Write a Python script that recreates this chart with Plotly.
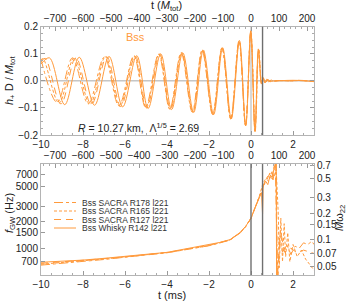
import math
import plotly.graph_objects as go

# ---------------- data ----------------
# top panel: strain h+ D / M_tot, extrema and ringdown points (t in ms)
t_whisky = [-10.0, -9.60, -8.87, -8.18, -7.45, -6.76, -6.11, -5.44, -4.90, -4.30, -3.78, -3.25,
            -2.73, -2.27, -1.78, -1.35, -0.94, -0.55, -0.25, -0.01, 0.19, 0.35, 0.50, 0.58,
            0.66, 0.75, 0.85, 0.95, 1.10, 1.50, 2.00, 2.40, 3.00]
h_whisky = [0.062, 0.085, -0.088, 0.087, -0.090, 0.090, -0.096, 0.093, -0.102, 0.100, -0.106, 0.104,
            -0.117, 0.114, -0.125, 0.122, -0.141, 0.149, -0.166, 0.185, -0.187, 0.118, -0.012, 0.012,
            -0.008, 0.006, -0.004, 0.003, -0.001, 0.001, 0.002, 0.001, -0.003]

t_r178 = [-10.0, -9.23, -8.50, -7.75, -6.98, -6.29, -5.58, -5.02, -4.40, -3.87, -3.33, -2.80,
          -2.33, -1.83, -1.39, -0.97, -0.57, -0.26, -0.01, 0.19, 0.36, 0.50, 0.58, 0.68,
          0.80, 0.95, 1.20, 1.80, 2.30, 3.00]
h_r178 = [0.080, -0.080, 0.085, -0.085, 0.088, -0.092, 0.092, -0.098, 0.098, -0.104, 0.104, -0.115,
          0.113, -0.124, 0.121, -0.140, 0.148, -0.165, 0.182, -0.185, 0.115, -0.010, 0.010, -0.006,
          0.004, -0.002, 0.001, 0.000, 0.002, -0.002]

t_r165 = [-10.0, -9.90, -9.14, -8.42, -7.67, -6.93, -6.25, -5.55, -4.99, -4.38, -3.85, -3.31, -2.78,
          -2.32, -1.82, -1.38, -0.96, -0.57, -0.26, -0.01, 0.20, 0.37, 0.51, 0.59, 0.69,
          0.82, 0.97, 1.30, 1.90, 2.40, 3.00]
h_r165 = [0.078, 0.082, -0.082, 0.086, -0.087, 0.089, -0.094, 0.092, -0.100, 0.099, -0.105, 0.104, -0.116,
          0.113, -0.124, 0.121, -0.140, 0.148, -0.165, 0.183, -0.186, 0.116, -0.011, 0.009, -0.006,
          0.004, -0.002, 0.001, 0.000, 0.001, -0.002]

t_r127 = [-10.0, -9.80, -9.05, -8.34, -7.60, -6.87, -6.20, -5.51, -4.96, -4.35, -3.83, -3.29, -2.77,
          -2.30, -1.81, -1.37, -0.96, -0.56, -0.26, -0.01, 0.19, 0.35, 0.50, 0.58, 0.67,
          0.78, 0.90, 1.20, 1.80, 2.40, 3.00]
h_r127 = [0.072, 0.083, -0.085, 0.086, -0.088, 0.089, -0.095, 0.092, -0.101, 0.099, -0.105, 0.104, -0.116,
          0.113, -0.125, 0.122, -0.141, 0.149, -0.166, 0.184, -0.186, 0.117, -0.011, 0.011, -0.007,
          0.005, -0.003, 0.001, 0.000, 0.001, -0.002]

# bottom panel: GW frequency (Hz)
tf_whisky = [-10, -9, -8, -7, -6, -5, -4, -3, -2, -1.5, -1, -0.5, -0.25, 0, 0.2, 0.4, 0.5,
             0.55, 0.58, 0.7, 0.8, 0.9, 1.0, 1.1, 1.2, 1.22]
f_whisky = [690, 705, 731, 765, 800, 850, 895, 985, 1085, 1160, 1250, 1520, 1780, 2200, 2900, 3900, 4300,
            2450, 5200, 5800, 5300, 6600, 6200, 8200, 9800, 300]

tf_r178 = [-10, -9, -8, -7, -6, -5, -4, -3, -2, -1.5, -1, -0.5, -0.25, 0, 0.2, 0.4, 0.55, 0.7,
           0.85, 1.0, 1.15, 1.28, 1.35, 1.5, 1.7, 1.9, 2.1, 2.3, 2.5, 2.7, 2.9, 3.0]
f_r178 = [640, 668, 703, 742, 788, 838, 885, 970, 1065, 1145, 1235, 1500, 1760, 2180, 2900, 3900, 5000, 6000,
          7000, 6500, 9800, 400, 1300, 900, 1100, 850, 1050, 1000, 1150, 1100, 1200, 1100]

tf_r165 = [-10, -9, -8, -7, -6, -5, -4, -3, -2, -1.5, -1, -0.5, -0.25, 0, 0.2, 0.4, 0.55, 0.7,
           0.85, 1.0, 1.1, 1.2, 1.3, 1.35, 1.42, 1.5, 1.58, 1.65, 1.75, 1.85, 2.0, 2.2, 2.4, 2.6,
           2.8, 3.0]
f_r165 = [655, 683, 716, 752, 793, 843, 890, 975, 1070, 1150, 1240, 1510, 1770, 2190, 2900, 3900, 5300, 6200,
          5800, 7500, 6500, 8000, 2400, 600, 2200, 700, 1900, 800, 1500, 700, 1100, 800, 950, 750,
          650, 560]

tf_r127 = [-10, -9, -8, -7, -6, -5, -4, -3, -2, -1.5, -1, -0.5, -0.25, 0, 0.2, 0.4, 0.55, 0.7,
           0.9, 1.05, 1.2, 1.25, 1.4, 1.6, 1.9, 2.2, 2.5, 2.8, 3.0]
f_r127 = [670, 694, 724, 758, 797, 846, 892, 980, 1078, 1155, 1245, 1515, 1775, 2195, 2900, 3900, 5000, 5600,
          7200, 6000, 9800, 450, 1600, 900, 1000, 880, 950, 900, 870]

labels = ["Bss SACRA R178 l221", "Bss SACRA R165 l221", "Bss SACRA R127 l221", "Bss Whisky R142 l221"]

# ticks
ms_ticks = [-10, -8, -6, -4, -2, 0, 2]
mtot_ticks = [-700, -600, -500, -400, -300, -200, -100, 0, 100, 200]
h_ticks = [-0.2, -0.1, 0.0, 0.1, 0.2]
f_ticks = [700, 1000, 1500, 2000, 3000, 5000, 7000]
mw_ticks = [0.05, 0.07, 0.1, 0.15, 0.2, 0.3, 0.5, 0.7]

MTOT_PER_MS = 75.0
MW_PER_HZ = 8.0e-5
T_RANGE = [-10, 3]
F_RANGE = [494, 9110]
MERGER_T = 0.0
COLLAPSE_T = 0.55

# ---------------- figure ----------------
W, H = 346, 302
ORANGE = "#FF9A3C"
FONT = "Liberation Sans, Arial, sans-serif"
XD = [41 / W, 314 / W]
YD_TOP = [1 - 135 / H, 1 - 26.7 / H]
YD_BOT = [1 - 275 / H, 1 - 164 / H]

dashes = ["dashdot", "3px,2px", "7px,5px", "solid"]

fig = go.Figure()
top_sets = [(t_r178, h_r178), (t_r165, h_r165), (t_r127, h_r127), (t_whisky, h_whisky)]
for (tt, hh), d, name in zip(top_sets, dashes, labels):
    fig.add_trace(go.Scatter(x=tt, y=hh, mode="lines", line=dict(color=ORANGE, width=1, dash=d, shape="spline", smoothing=1.0),
                             xaxis="x", yaxis="y", showlegend=False, name=name, hoverinfo="skip"))
bot_sets = [(tf_r178, f_r178), (tf_r165, f_r165), (tf_r127, f_r127), (tf_whisky, f_whisky)]
for (tt, ff), d, name in zip(bot_sets, dashes, labels):
    fig.add_trace(go.Scatter(x=tt, y=ff, mode="lines", line=dict(color=ORANGE, width=1, dash=d),
                             xaxis="x2", yaxis="y2", showlegend=False, name=name, hoverinfo="skip"))

frame = "#b4b4b4"
tickfont = dict(family=FONT, size=10, color="#222")
common = dict(showline=True, linecolor=frame, linewidth=1, ticks="inside", tickcolor="#999",
              ticklen=4, showgrid=False, zeroline=False, tickfont=tickfont, automargin=False)
minor_ms = dict(dtick=0.5, ticklen=2, tickcolor="#aaa", ticks="inside")
minor_m = dict(dtick=20, ticklen=2, tickcolor="#aaa", ticks="inside")

fig.update_layout(
    template="none",
    width=W, height=H, margin=dict(l=0, r=0, t=0, b=0, autoexpand=False),
    paper_bgcolor="white", plot_bgcolor="white", showlegend=False,
    xaxis=dict(domain=XD, anchor="y", range=T_RANGE, tickvals=ms_ticks, mirror=False, minor=minor_ms, **common),
    xaxis3=dict(overlaying="x", anchor="y", side="top", range=[T_RANGE[0] * MTOT_PER_MS, T_RANGE[1] * MTOT_PER_MS],
                tickvals=mtot_ticks, minor=minor_m, **common),
    yaxis=dict(domain=YD_TOP, anchor="x", range=[-0.2, 0.2], tickvals=h_ticks, tickformat=".1f", mirror="ticks",
               minor=dict(dtick=0.025, ticklen=2, tickcolor="#aaa", ticks="inside"), **common),
    xaxis2=dict(domain=XD, anchor="y2", range=T_RANGE, tickvals=ms_ticks, mirror=False, minor=minor_ms, **common),
    xaxis4=dict(overlaying="x2", anchor="y2", side="top", range=[T_RANGE[0] * MTOT_PER_MS, T_RANGE[1] * MTOT_PER_MS],
                tickvals=mtot_ticks, minor=minor_m, **common),
    yaxis2=dict(domain=YD_BOT, anchor="x2", type="log", range=[math.log10(F_RANGE[0]), math.log10(F_RANGE[1])],
                tickvals=f_ticks, ticktext=[str(v) for v in f_ticks], mirror=False, **common),
    yaxis3=dict(overlaying="y2", anchor="x2", side="right", type="log",
                range=[math.log10(F_RANGE[0] * MW_PER_HZ), math.log10(F_RANGE[1] * MW_PER_HZ)],
                tickvals=mw_ticks, ticktext=[("%g" % v) for v in mw_ticks], **common),
)

# invisible helper traces so overlay axes get drawn
fig.add_trace(go.Scatter(x=[None], y=[None], xaxis="x3", yaxis="y", showlegend=False, hoverinfo="skip"))
fig.add_trace(go.Scatter(x=[None], y=[None], xaxis="x4", yaxis="y2", showlegend=False, hoverinfo="skip"))
fig.add_trace(go.Scatter(x=[None], y=[None], xaxis="x2", yaxis="y3", showlegend=False, hoverinfo="skip"))

# reference lines
fig.add_shape(type="line", xref="x", yref="y domain", x0=T_RANGE[0], x1=T_RANGE[1], y0=0.5, y1=0.5,
              line=dict(color="#a8a8a8", width=1), layer="below")
fig.add_shape(type="line", xref="x", yref="y domain", x0=MERGER_T, x1=MERGER_T, y0=0, y1=1,
              line=dict(color="#cfcfcf", width=1.6), layer="below")
fig.add_shape(type="line", xref="x", yref="y domain", x0=COLLAPSE_T, x1=COLLAPSE_T, y0=0, y1=1,
              line=dict(color="#6e6e6e", width=1.4), layer="above")
for tv in (MERGER_T, COLLAPSE_T):
    fig.add_shape(type="line", xref="x2", yref="y2 domain", x0=tv, x1=tv, y0=0, y1=1,
                  line=dict(color="#707070", width=1.4), layer="above")

# legend drawn by hand (compact spacing)
leg_y = [202.5, 211, 219.5, 228]
for yy, d, name in zip(leg_y, dashes, labels):
    fig.add_shape(type="line", xref="paper", yref="paper", x0=54 / W, x1=76 / W, y0=1 - yy / H, y1=1 - yy / H,
                  line=dict(color=ORANGE, width=1, dash=d))
    fig.add_annotation(x=81 / W, y=1 - yy / H, xref="paper", yref="paper", text=name, showarrow=False,
                       xanchor="left", yanchor="middle", borderpad=0,
                       font=dict(family=FONT, size=8.5, color="#333"))

tf = dict(family=FONT, size=11, color="#222")
ctr = dict(xref="paper", yref="paper", showarrow=False, xanchor="center", yanchor="middle")
fig.add_annotation(x=166 / W, y=1 - 6 / H, text="t (<i>M</i><sub>tot</sub>)", font=tf, **ctr)
fig.add_annotation(x=172 / W, y=1 - 295 / H, text="t (ms)", font=tf, **ctr)
fig.add_annotation(x=10 / W, y=1 - 81 / H, text="<i>h</i><sub>+</sub> D / <i>M</i><sub>tot</sub>",
                   textangle=-90, font=tf, **ctr)
fig.add_annotation(x=10 / W, y=1 - 213 / H, text="<i>f</i><sub>GW</sub> (Hz)", textangle=-90, font=tf, **ctr)
fig.add_annotation(x=340 / W, y=1 - 218 / H, text="<i>M</i>ω<sub>22</sub>", textangle=-90, font=tf, **ctr)
fig.add_annotation(x=135 / W, y=1 - 37 / H, text="Bss", font=dict(family=FONT, size=11, color=ORANGE), **ctr)
fig.add_annotation(x=138 / W, y=1 - 127 / H, text="<i>R</i> = 10.27 km,  Λ<sup>1/5</sup> = 2.69",
                   font=dict(family=FONT, size=10.5, color="#222"), **ctr)

fig.write_html("out.html", config={"displayModeBar": False},
               post_script="document.body.style.margin='0px';document.body.style.overflow='hidden';")
